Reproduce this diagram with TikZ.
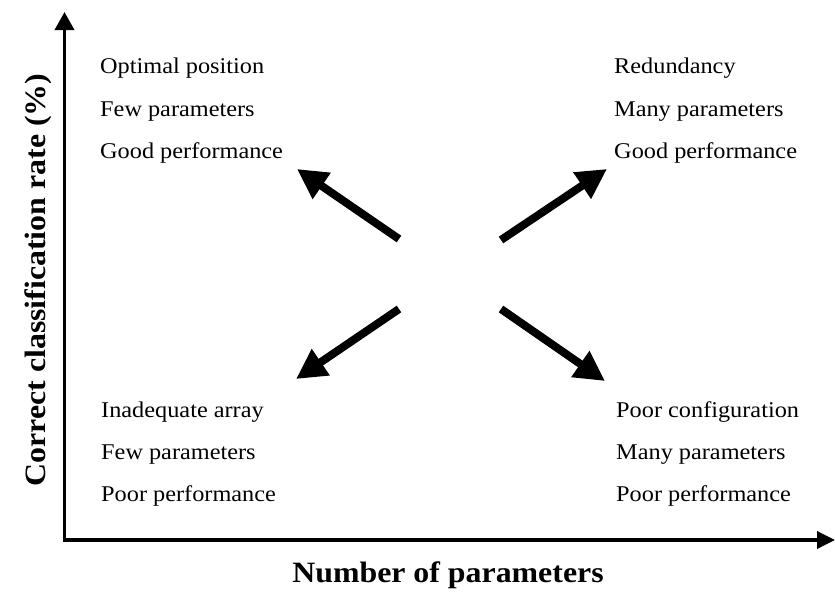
\documentclass[tikz,border=0pt]{standalone}
\usepackage{fontspec}
\setmainfont{Liberation Serif}[FakeStretch=1.08]
\usetikzlibrary{arrows.meta}
\tikzset{
  lbl/.style={anchor=base west, inner sep=0pt, font=\fontsize{22.5}{27}\selectfont},
  axlbl/.style={inner sep=0pt, font=\fontsize{29.5}{34}\selectfont\bfseries},
  bigarrow/.style={line width=8pt, -{Triangle[length=30pt,width=30pt]}},
  axis/.style={line width=3.5pt, {Triangle[length=18pt,width=19pt]}-{Triangle[length=18pt,width=17pt]}}
}
\begin{document}
\begin{tikzpicture}[x=1pt,y=-1pt]
\useasboundingbox (0,0) rectangle (835,595);
% axes
\coordinate (ytip) at (64.5,12);
\coordinate (orig) at (64.5,540);
\coordinate (xtip) at (835,540);
\draw[axis] (ytip) -- (orig) -- (xtip);
% axis labels
\node[axlbl, anchor=base] (xl) at (448,582) {Number of parameters};
\node[axlbl, anchor=base, rotate=90] (yl) at (45,280) {Correct classification rate (\%)};
% upper left
\node[lbl] (ul1) at (100,73) {Optimal position};
\node[lbl] (ul2) at (100,116) {Few parameters};
\node[lbl] (ul3) at (100,158) {Good performance};
% upper right
\node[lbl] (ur1) at (614,73) {Redundancy};
\node[lbl] (ur2) at (614,116) {Many parameters};
\node[lbl] (ur3) at (614,158) {Good performance};
% lower left
\node[lbl] (ll1) at (101,417) {Inadequate array};
\node[lbl] (ll2) at (101,459) {Few parameters};
\node[lbl] (ll3) at (101,501) {Poor performance};
% lower right
\node[lbl] (lr1) at (616,417) {Poor configuration};
\node[lbl] (lr2) at (616,459) {Many parameters};
\node[lbl] (lr3) at (616,501) {Poor performance};
% arrows
\coordinate (a1s) at (399,239); \coordinate (a1e) at (297,169);
\coordinate (a2s) at (501,240); \coordinate (a2e) at (607,169);
\coordinate (a3s) at (399,309); \coordinate (a3e) at (296,379);
\coordinate (a4s) at (501,309); \coordinate (a4e) at (605,381);
\draw[bigarrow] (a1s) -- (a1e);
\draw[bigarrow] (a2s) -- (a2e);
\draw[bigarrow] (a3s) -- (a3e);
\draw[bigarrow] (a4s) -- (a4e);
\end{tikzpicture}
\end{document}
